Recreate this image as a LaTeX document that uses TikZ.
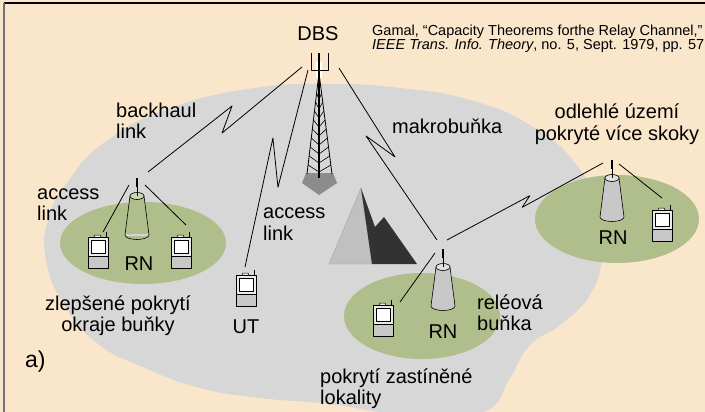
\documentclass[tikz,border=0pt]{standalone}
\usepackage{fontspec}
\setmainfont{Liberation Sans}
\usetikzlibrary{calc}

\definecolor{paper}{RGB}{250,230,202}
\definecolor{macro}{RGB}{215,215,215}
\definecolor{cell}{RGB}{176,190,140}
\definecolor{cellhi}{RGB}{204,214,176}
\definecolor{metal}{RGB}{200,200,200}
\definecolor{rock}{RGB}{192,192,192}
\definecolor{rockdark}{RGB}{50,50,50}

\tikzset{
  lbl/.style={inner sep=0pt, font=\fontsize{20}{21}\selectfont},
  link/.style={line width=0.8pt},
  bolt/.style n args={4}{to path={
      -- ($(\tikztostart)!#1!(\tikztotarget)!#2!90:(\tikztotarget)$)
      -- ($(\tikztostart)!#3!(\tikztotarget)!#4!90:(\tikztotarget)$)
      -- (\tikztotarget)}},
  rn body/.style={fill=metal},
  rn top/.style={fill=metal!55},
  rn base/.style={draw=none},
  relay/.pic={
    \draw[line width=0.6pt, rn body] (-7,0) -- (-12,39)
      arc[start angle=180, end angle=0, x radius=12, y radius=4.5] -- (7,0) -- cycle;
    \path[rn base] (-11,39) -- (11,39);
    \draw[line width=0.6pt, rn top] (0,0) ellipse[x radius=7, y radius=3.5];
    \draw[line width=0.6pt] (0,0) -- (0,-9);
    \draw[line width=1.6pt] (0,-9) -- (0,-18);
    \coordinate (-tip) at (0,-18);
  },
  phone/.pic={
    \draw[line width=1pt] (18,0) -- (18,-5);
    \draw[line width=0.5pt, fill=black!8] (6,0) -- (7,-2) -- (12,-2) -- (13,0);
    \draw[line width=0.6pt, fill=black!8] (0,0) rectangle (20,19);
    \draw[line width=0.6pt, fill=metal] (0,19) rectangle (20,31);
    \draw[line width=0.7pt, fill=white] (3,3) rectangle (17,16);
    \coordinate (-tip) at (18,-5);
  }
}

\begin{document}
\begin{tikzpicture}[x=1pt,y=-1pt,line join=round]
  \useasboundingbox (0,0) rectangle (705,412);
  \clip (0,0) rectangle (705,412);
  \fill[paper] (0,0) rectangle (705,412);
  %frame
  \draw[line width=1.5pt] (4,3) -- (705,3);
  \draw[black!55, line width=2pt] (4,3) -- (4,412);

  %macro cell
  \fill[macro] plot[smooth cycle, tension=0.8] coordinates {
    (330,84) (400,88) (470,100) (530,125) (575,163) (598,210) (602,255)
    (590,295) (560,325) (530,345) (510,378) (488,410) (440,418) (380,412)
    (330,404) (260,398) (200,388) (145,368) (97,343) (63,303) (46,260)
    (48,220) (67,183) (105,142) (170,108) (255,88)};

  %relay cells
  \fill[cell] (143,243) ellipse[x radius=83, y radius=41];
  \fill[cell] (422,316) ellipse[x radius=78, y radius=43];
  \fill[cell] (617,219) ellipse[x radius=82, y radius=44];

  %mountains
  \filldraw[fill=rock, draw=black!35, line width=0.4pt]
    (329,264) -- (361,188) -- (372,264) -- cycle;
  \fill[rockdark] (361,188) -- (375,227) -- (384,217) -- (417,264) -- (372,264) -- cycle;

  %tower
  \fill[black!45] (302,183) -- (306,173) -- (333,173) -- (337,183) -- (319,195) -- cycle;
  \fill[white] (316,62) rectangle (322,78);
  \draw[line width=0.8pt] (307,174) -- (319,73) -- (332,174);
  \foreach \y in {84,93,...,165}
    \draw[line width=0.6pt] ({319-12*(\y-73)/101},\y) -- (319,\y+7) -- ({319+13*(\y-73)/101},\y);
  \draw[line width=1.2pt] (319,53) -- (319,178);
  \draw[line width=0.8pt] (311,53) -- (311,70) -- (328,70) -- (328,53);
  \coordinate (dbs-w) at (302,67);
  \coordinate (dbs-s) at (308,70);
  \coordinate (dbs-e) at (339,68);

  %relay nodes
  \pic[rn body/.style={fill=cell}, rn top/.style={fill=cellhi},
       rn base/.style={draw=metal!80, line width=1.4pt}] (rnL) at (137,196) {relay};
  \pic (rnB) at (443,267) {relay};
  \pic (rnR) at (612,178) {relay};
  \path (rnL-tip) ++(11,-6) coordinate (rnL-up) (rnL-tip) ++(-8,7) coordinate (rnL-a)
        (rnL-tip) ++(8,7) coordinate (rnL-b);
  \path (rnB-tip) ++(-6,-9) coordinate (rnB-up) (rnB-tip) ++(4,-9) coordinate (rnB-out)
        (rnB-tip) ++(-8,4) coordinate (rnB-a);
  \path (rnR-tip) ++(-9,3) coordinate (rnR-in) (rnR-tip) ++(7,4) coordinate (rnR-a);

  %terminals
  \pic (utL) at (88,237) {phone};
  \pic (utM) at (171,237) {phone};
  \pic (ut) at (236,275) {phone};
  \pic (utB) at (373,305) {phone};
  \pic (utR) at (652,210) {phone};
  \path (utL-tip) ++(-3,0) coordinate (utL-in) (utM-tip) ++(-3,-7) coordinate (utM-in)
        (ut-tip) ++(-9,-3) coordinate (ut-in) (utB-tip) ++(9,2) coordinate (utB-in)
        (utR-tip) ++(-8,-7) coordinate (utR-in);

  %links
  \draw[link] (dbs-w) to[bolt={0.554}{9.5pt}{0.428}{-7.2pt}] (rnL-up);
  \draw[link] (dbs-s) to[bolt={0.584}{7.1pt}{0.365}{-12.7pt}] (ut-in);
  \draw[link] (dbs-e) to[bolt={0.53}{4.6pt}{0.366}{-10.2pt}] (rnB-up);
  \draw[link] (rnB-out) to[bolt={0.54}{3.1pt}{0.47}{-4pt}] (rnR-in);
  \draw[link] (rnL-a) -- (utL-in);
  \draw[link] (rnL-b) -- (utM-in);
  \draw[link] (rnB-a) -- (utB-in);
  \draw[link] (rnR-a) -- (utR-in);

  %labels (multi-line ones sit on the baseline of their last line)
  \node[lbl, anchor=base] (dbs) at (318,41) {DBS};
  \node[inner sep=0pt, anchor=base west, align=left, font=\fontsize{14.5}{14.5}\selectfont]
    (ref) at (372,50) {Gamal, “Capacity Theorems forthe Relay Channel,”\\
    \textit{IEEE Trans. Info. Theory}, no. 5, Sept. 1979, pp. 572};
  \node[lbl, anchor=base west, align=left] (bh) at (116,139) {backhaul\\link};
  \node[lbl, anchor=base west, align=left] (acc1) at (37,220) {access\\link};
  \node[lbl, anchor=base west, align=left] (acc2) at (263,240) {access\\link};
  \node[lbl, anchor=base west] (mak) at (392,134) {makrobuňka};
  \node[lbl, anchor=base, align=center] (far) at (617,140) {odlehlé území\\pokryté více skoky};
  \node[lbl, anchor=base] (rnL-lbl) at (139,270) {RN};
  \node[lbl, anchor=base] (rnB-lbl) at (443,338) {RN};
  \node[lbl, anchor=base] (rnR-lbl) at (613,244) {RN};
  \node[lbl, anchor=base west, align=left] (rel) at (477,330) {reléová\\buňka};
  \node[lbl, anchor=base west, align=left] (shad) at (320,404) {pokrytí zastíněné\\lokality};
  \node[lbl, anchor=base, align=center] (edge) at (118,331) {zlepšené pokrytí\\okraje buňky};
  \node[lbl, anchor=base] (ut-lbl) at (246,333) {UT};
  \node[inner sep=0pt, anchor=base west, font=\fontsize{23}{24}\selectfont] (tag) at (25,367) {a)};
\end{tikzpicture}
\end{document}
